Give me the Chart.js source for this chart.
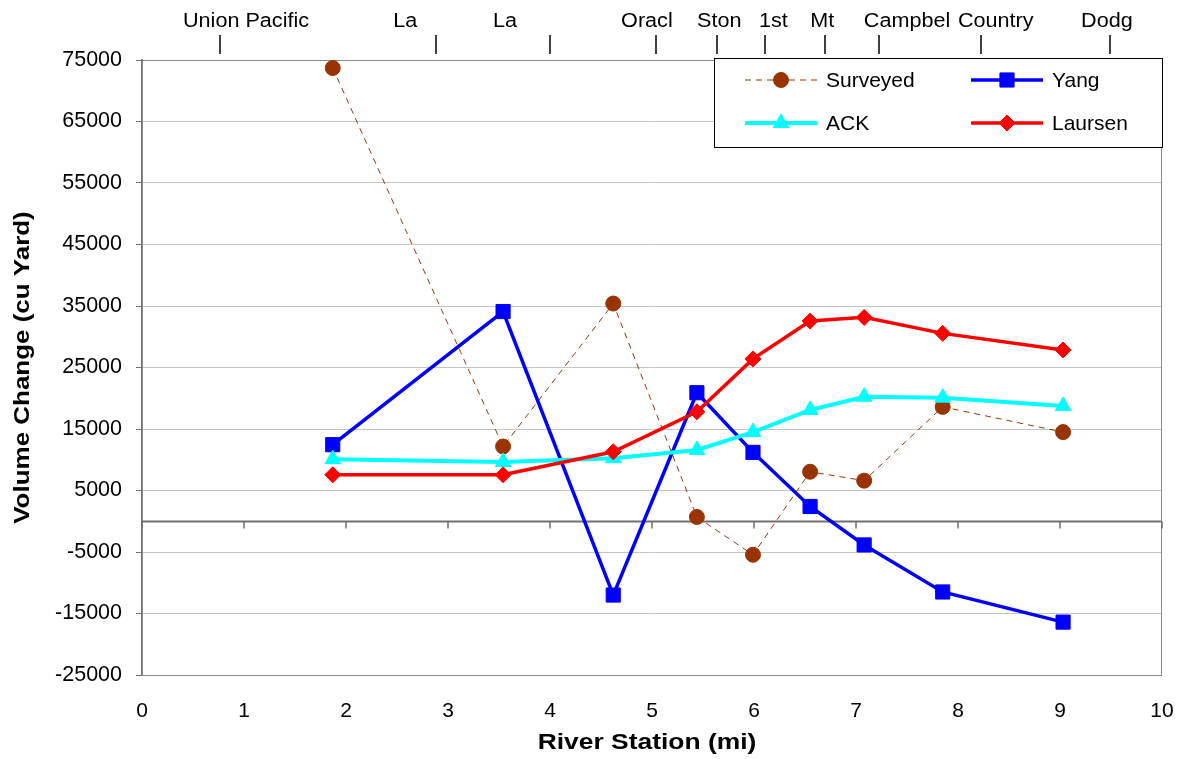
<!DOCTYPE html>
<html>
<head>
<meta charset="utf-8">
<script src="https://cdn.jsdelivr.net/npm/chart.js@4/dist/chart.umd.min.js"></script>
<style>
html, body { margin: 0; padding: 0; background: #fff; }
#wrap { width: 1184px; height: 759px; }
</style>
</head>
<body>
<div id="wrap"><canvas id="chart" width="1184" height="759"></canvas></div>
<script>
// river station (mi) of each cross section
const stations = [1.87, 3.54, 4.62, 5.44, 5.99, 6.55, 7.08, 7.85, 9.03];
const surveyed = [73700, 12150, 35400, 700, -5450, 8050, 6600, 18600, 14500];
const yang = [12450, 34100, -12000, 20900, 11200, 2400, -3850, -11500, -16400];
const ack = [10100, 9650, 10250, 11600, 14500, 18100, 20250, 20100, 18750];
const laursen = [7550, 7550, 11300, 17800, 26400, 32550, 33150, 30550, 27850];

const yTicks = [75000, 65000, 55000, 45000, 35000, 25000, 15000, 5000, -5000, -15000, -25000];
const xTicks = [0, 1, 2, 3, 4, 5, 6, 7, 8, 9, 10];

// bridges along the top
const bridgeNames = ['Union Pacific', 'La', 'La', 'Oracl', 'Ston', '1st', 'Mt', 'Campbel', 'Country', 'Dodg'];
const bridgeTicks = [0.76, 2.88, 4.0, 5.04, 5.64, 6.11, 6.70, 7.23, 8.23, 9.49];
const bridgeLabelX = [1.02, 2.58, 3.56, 4.95, 5.66, 6.19, 6.67, 7.50, 8.37, 9.46];

const FONT = 'Arial, "Liberation Sans", sans-serif';
Chart.defaults.font.family = FONT;
Chart.defaults.color = '#000';

function pts(values) {
    return stations.map((x, i) => ({ x: x, y: values[i] }));
}

function stretchText(ctx, text, x, y, font, sx, rot) {
    ctx.save();
    ctx.translate(x, y);
    if (rot) ctx.rotate(rot);
    ctx.scale(sx, 1);
    ctx.font = font;
    ctx.fillStyle = '#000';
    ctx.textAlign = 'center';
    ctx.textBaseline = 'middle';
    ctx.fillText(text, 0, 0);
    ctx.restore();
}

// plot frame + the zero axis with its tick marks
const framePlugin = {
    id: 'frame',
    beforeDatasetsDraw(chart) {
        const { ctx, chartArea: a, scales } = chart;
        ctx.save();
        ctx.strokeStyle = '#8c8c8c';
        ctx.lineWidth = 1;
        ctx.strokeRect(a.left + 0.5, a.top + 0.5, a.right - a.left - 1, a.bottom - a.top);
        const y0 = Math.round(scales.y.getPixelForValue(0)) + 0.5;
        ctx.strokeStyle = '#707070';
        ctx.lineWidth = 2;
        ctx.beginPath();
        ctx.moveTo(a.left, y0);
        ctx.lineTo(a.right, y0);
        ctx.stroke();
        ctx.lineWidth = 1.5;
        xTicks.forEach(v => {
            const px = Math.round(scales.x.getPixelForValue(v));
            ctx.beginPath();
            ctx.moveTo(px, y0);
            ctx.lineTo(px, y0 + 7);
            ctx.stroke();
        });
        ctx.restore();
    }
};

const extrasPlugin = {
    id: 'extras',
    afterDraw(chart) {
        const { ctx, chartArea: a, scales } = chart;
        // bridge names and markers
        ctx.save();
        ctx.strokeStyle = '#000';
        ctx.lineWidth = 1.5;
        bridgeTicks.forEach(v => {
            const px = Math.round(scales.x.getPixelForValue(v));
            ctx.beginPath();
            ctx.moveTo(px, a.top - 25);
            ctx.lineTo(px, a.top - 6);
            ctx.stroke();
        });
        bridgeNames.forEach((name, i) => {
            stretchText(ctx, name, scales.x.getPixelForValue(bridgeLabelX[i]), a.top - 39, '20px ' + FONT, 1.08);
        });
        ctx.restore();

        // axis titles
        stretchText(ctx, 'River Station (mi)', (a.left + a.right) / 2 - 5, chart.height - 16, 'bold 22px ' + FONT, 1.2);
        stretchText(ctx, 'Volume Change (cu Yard)', 23, (a.top + a.bottom) / 2, 'bold 22px ' + FONT, 1.18, -Math.PI / 2);

        // legend box
        const bx = a.right - 448, by = a.top - 2, bw = 448, bh = 89;
        ctx.save();
        ctx.fillStyle = '#fff';
        ctx.fillRect(bx, by, bw, bh);
        ctx.strokeStyle = '#000';
        ctx.lineWidth = 1;
        ctx.strokeRect(bx + 0.5, by + 0.5, bw, bh);
        const cols = [bx + 31, bx + 257];
        const rows = [by + 22, by + 65];
        chart.data.datasets.forEach((ds, i) => {
            const sx = cols[i % 2], sy = rows[Math.floor(i / 2)];
            ctx.strokeStyle = ds.borderColor;
            ctx.lineWidth = ds.borderWidth;
            ctx.setLineDash(ds.borderDash || []);
            ctx.beginPath();
            ctx.moveTo(sx, sy);
            ctx.lineTo(sx + 72, sy);
            ctx.stroke();
            ctx.setLineDash([]);
            ctx.fillStyle = ds.pointBackgroundColor;
            ctx.strokeStyle = ds.pointBorderColor;
            ctx.lineWidth = 1;
            if (Chart.helpers && Chart.helpers.drawPoint) {
                Chart.helpers.drawPoint(ctx, { pointStyle: ds.pointStyle, radius: ds.pointRadius, borderWidth: 1, rotation: 0 }, sx + 36, sy);
            } else {
                ctx.beginPath();
                ctx.arc(sx + 36, sy, ds.pointRadius, 0, Math.PI * 2);
                ctx.fill();
            }
            ctx.fillStyle = '#000';
            ctx.font = '21px ' + FONT;
            ctx.textAlign = 'left';
            ctx.textBaseline = 'middle';
            ctx.fillText(ds.label, sx + 81, sy + 1);
        });
        ctx.restore();
    }
};

function series(label, values, color, style, radius, width, dash, order) {
    return {
        label: label,
        data: pts(values),
        borderColor: color,
        backgroundColor: color,
        borderWidth: width,
        borderDash: dash,
        pointStyle: style,
        pointRadius: radius,
        pointHoverRadius: radius,
        pointBackgroundColor: color,
        pointBorderColor: color,
        pointBorderWidth: 1,
        tension: 0,
        fill: false,
        order: order
    };
}

new Chart(document.getElementById('chart'), {
    type: 'line',
    data: {
        datasets: [
            series('Surveyed', surveyed, '#993300', 'circle', 7.5, 1, [6, 5], 4),
            series('Yang', yang, '#0000ff', 'rect', 10, 3.5, [], 3),
            series('ACK', ack, '#00ffff', 'triangle', 9, 4, [], 2),
            series('Laursen', laursen, '#ff0000', 'rectRot', 8, 3.5, [], 1)
        ]
    },
    options: {
        responsive: false,
        animation: false,
        events: [],
        layout: { padding: { top: 60, right: 22, left: 0, bottom: 0 } },
        plugins: {
            legend: { display: false },
            tooltip: { enabled: false }
        },
        scales: {
            x: {
                type: 'linear',
                min: 0,
                max: 10,
                afterBuildTicks: s => { s.ticks = xTicks.map(v => ({ value: v })); },
                afterFit: s => { s.height = 84; s.paddingLeft = 0; s.paddingRight = 0; },
                grid: { display: false, drawTicks: false },
                border: { display: false },
                ticks: { padding: 24, font: { size: 21 }, color: '#000', callback: v => String(v) }
            },
            y: {
                min: -25000,
                max: 75000,
                afterBuildTicks: s => { s.ticks = yTicks.slice().reverse().map(v => ({ value: v })); },
                afterFit: s => { s.width = 142; s.paddingTop = 0; s.paddingBottom = 0; },
                grid: { color: '#c4c4c4', lineWidth: 1, tickColor: '#707070', tickLength: 6 },
                border: { display: true, color: '#707070', width: 2 },
                ticks: { padding: 14, font: { size: 21.5 }, color: '#000', callback: v => String(v) }
            }
        }
    },
    plugins: [framePlugin, extrasPlugin]
});
</script>
</body>
</html>
